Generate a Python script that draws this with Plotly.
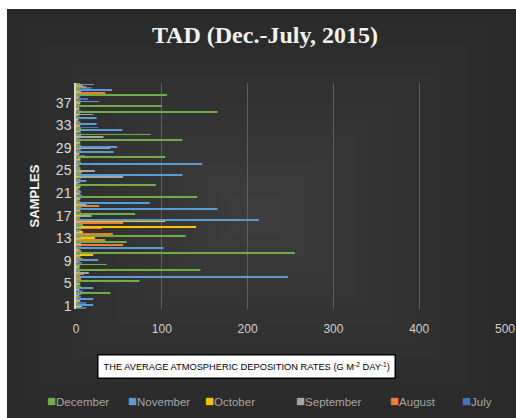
import plotly.graph_objects as go

samples = list(range(1, 41))

december = [4, 3, 40, 6, 74, 5, 145, 36, 8, 255, 5, 59, 128, 6, 8, 5, 69, 6, 5, 141,
            4, 93, 5, 6, 5, 6, 104, 5, 6, 124, 87, 6, 5, 4, 165, 100, 5, 106, 4, 5]
november = [20, 20, 6, 20, 4, 247, 5, 4, 26, 5, 102, 6, 5, 4, 6, 213, 5, 165, 86, 5,
            6, 4, 12, 124, 5, 147, 4, 44, 48, 5, 6, 54, 24, 24, 5, 4, 27, 5, 42, 21]
october = [7, 3, 5, 2, 3, 2, 3, 4, 3, 20, 3, 6, 22, 8, 140, 104, 5, 3, 4, 3,
           4, 5, 3, 4, 3, 2, 5, 3, 4, 3, 5, 5, 3, 2, 4, 3, 5, 3, 4, 3]
september = [4, 5, 3, 4, 5, 3, 15, 4, 3, 5, 4, 10, 6, 5, 8, 6, 18, 4, 12, 5,
             4, 3, 5, 55, 22, 4, 5, 4, 40, 5, 32, 4, 5, 3, 20, 4, 5, 3, 6, 8]
august = [3, 2, 4, 3, 2, 6, 9, 3, 4, 5, 6, 55, 34, 43, 30, 55, 4, 5, 27, 3,
          4, 3, 2, 4, 7, 3, 2, 3, 4, 3, 2, 3, 4, 2, 3, 2, 3, 4, 34, 12]
july = [12, 12, 6, 8, 5, 4, 6, 5, 7, 4, 5, 6, 5, 36, 6, 5, 4, 6, 5, 4,
        7, 5, 4, 6, 5, 4, 5, 10, 6, 5, 4, 6, 26, 5, 4, 6, 5, 14, 14, 18]

series = [
    ("July", july, "#4472C4"),
    ("August", august, "#ED7D31"),
    ("September", september, "#A5A5A5"),
    ("October", october, "#FFC000"),
    ("November", november, "#5B9BD5"),
    ("December", december, "#70AD47"),
]

x_ticks = [0, 100, 200, 300, 400, 500]
y_ticks = [1, 5, 9, 13, 17, 21, 25, 29, 33, 37]

fig = go.Figure()
for name, vals, col in series:
    fig.add_trace(go.Bar(y=samples, x=vals, name=name, orientation="h",
                         marker=dict(color=col, line=dict(width=0))))

# plot area geometry (pixels) for paper conversions
L, R, T, B = 76, 11, 83, 109
W, H = 516, 418
pw, ph = W - L - R, H - T - B

def px(x):
    return (x - L) / pw

def py(y):
    return (H - B - y) / ph

shapes = [dict(type="rect", xref="paper", yref="paper", x0=px(7), x1=px(516),
               y0=py(418), y1=py(9), fillcolor="#252525", line=dict(width=0), layer="below")]
cx, cy = 255, 215
n = 24
for i in range(n):
    f = 1 - i / n
    hw, hh = 300 * f, 240 * f
    shapes.append(dict(type="rect", xref="paper", yref="paper",
                       x0=px(max(7, cx - hw)), x1=px(min(516, cx + hw)),
                       y0=py(min(418, cy + hh)), y1=py(max(9, cy - hh)),
                       fillcolor="rgba(255,255,255,0.0075)", line=dict(width=0), layer="below"))

annotations = [dict(text="THE AVERAGE ATMOSPHERIC DEPOSITION RATES (G M<sup>-2</sup> DAY<sup>-1</sup>)",
                    xref="paper", yref="paper", x=px(246), y=py(366),
                    xanchor="center", yanchor="middle", showarrow=False,
                    font=dict(family="Liberation Sans Narrow, Liberation Sans", size=9.3, color="black"),
                    bgcolor="white", bordercolor="black", borderwidth=1.5, borderpad=5)]

# legend (Excel style: small square right before the name), December first
legend_x = [45, 126, 203, 294, 388, 460]
for (name, vals, col), lx in zip(reversed(series), legend_x):
    annotations.append(dict(text=f"<span style='color:{col};font-size:15px'>■</span>{name}",
                            xref="paper", yref="paper", x=px(lx), y=py(400),
                            xanchor="left", yanchor="middle", showarrow=False,
                            font=dict(family="Liberation Sans Narrow, Liberation Sans", size=11.5,
                                      color="#a6a6a6")))

fig.update_layout(
    width=W, height=H,
    margin=dict(l=L, r=R, t=T, b=B),
    paper_bgcolor="white",
    plot_bgcolor="rgba(0,0,0,0)",
    barmode="group", bargap=0.08, bargroupgap=0,
    shapes=shapes,
    showlegend=False,
    title=dict(text="<b>TAD (Dec.-July, 2015)</b>", x=265 / W, xanchor="center",
               y=1 - 35 / H, yanchor="middle",
               font=dict(family="Liberation Serif", size=24, color="#f2f2f2")),
    xaxis=dict(range=[0, 500], tickvals=x_ticks, showgrid=True, gridcolor="#5e5e5e",
               gridwidth=1, zeroline=False, showline=False, ticks="", automargin=False,
               ticklabelstandoff=11,
               tickfont=dict(family="Liberation Sans", size=12, color="#d0d0d0")),
    yaxis=dict(range=[0.5, 40.5], tickvals=y_ticks, showgrid=False, zeroline=False,
               showline=True, linecolor="#d9d9d9", linewidth=1.5, ticks="", automargin=False,
               tickfont=dict(family="Liberation Sans", size=14, color="#d9d9d9"),
               title=dict(text="<b>SAMPLES</b>", standoff=13,
                          font=dict(family="Liberation Sans", size=13, color="#f2f2f2"))),
    annotations=annotations,
)

fig.write_html("out.html")
